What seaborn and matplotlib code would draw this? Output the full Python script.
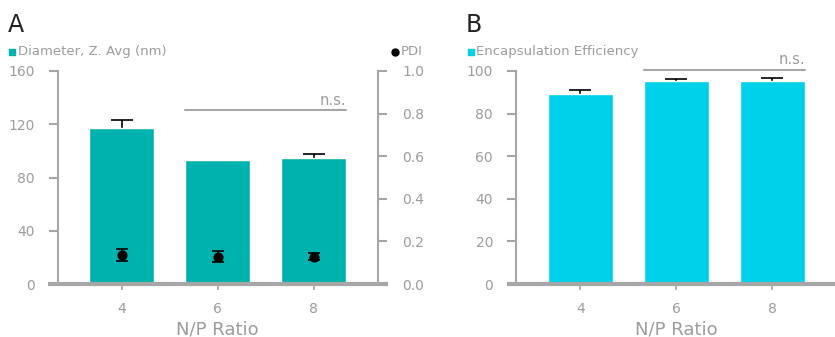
import numpy as np
import pandas as pd
import matplotlib
matplotlib.use("Agg")
import matplotlib.pyplot as plt
from matplotlib.lines import Line2D
import seaborn as sns

# ---- data ----
np_ratio = ["4", "6", "8"]
diameter_nm = [117.2, 93.2, 94.7]
diameter_sd = [6.0, 0.0, 3.2]
pdi = [0.135, 0.128, 0.128]
pdi_sd = [0.028, 0.027, 0.016]
encapsulation = [89.2, 95.3, 95.3]
encapsulation_sd = [1.7, 0.9, 1.6]

left_ticks_a = [0, 40, 80, 120, 160]
right_ticks_a = [0.0, 0.2, 0.4, 0.6, 0.8, 1.0]
ticks_b = [0, 20, 40, 60, 80, 100]

# ---- style ----
TEAL = "#00B2AE"
CYAN = "#00D1EA"
GREY = "#A6A6A6"
TXT = "#9C9C9C"

sns.set_theme(style="white")
plt.rcParams["font.family"] = ["DejaVu Sans"]

W, H = 835, 337
fig = plt.figure(figsize=(W / 100, H / 100), dpi=100)


def frac_box(x0, x1, ytop, ybot):
    return [x0 / W, 1 - ybot / H, (x1 - x0) / W, (ybot - ytop) / H]


def style_axis(ax, ymax, ticks, fmt):
    ax.set_xlim(-0.67, 2.67)
    ax.set_ylim(0, ymax)
    ax.set_yticks(ticks)
    ax.set_yticklabels([fmt(t) for t in ticks])
    for s in ["top", "right", "bottom"]:
        ax.spines[s].set_visible(False)
    ax.spines["left"].set_color(GREY)
    ax.spines["left"].set_linewidth(1.5)
    ax.tick_params(axis="y", which="both", direction="out", length=6.5, width=1.5,
                   color=GREY, labelcolor=TXT, labelsize=10, pad=10, left=True)
    ax.tick_params(axis="x", direction="out", length=4, width=1.2, color=GREY,
                   labelcolor=TXT, labelsize=10, pad=9, bottom=True)
    ax.set_xlabel("N/P Ratio", color=TXT, fontsize=13, labelpad=3)
    ax.set_ylabel("")
    ax.grid(False)
    # heavy baseline running past both tick stubs
    ext = 9.5 / (ax.get_position().width * W)
    ax.add_line(Line2D([-ext, 1 + ext], [0, 0], transform=ax.transAxes,
                       color=GREY, lw=3, clip_on=False, solid_capstyle="butt",
                       zorder=5))


def upper_errorbars(ax, vals, errs, half_cap=0.115):
    # one-sided (upper) error whiskers with a cap
    for i, (v, e) in enumerate(zip(vals, errs)):
        if e <= 0:
            continue
        ax.vlines(i, v, v + e, color="black", lw=1.2, zorder=1)
        ax.hlines(v + e, i - half_cap, i + half_cap, color="black", lw=1.2, zorder=1)


# ---- panel A ----
axA = fig.add_axes(frac_box(57.5, 378, 71, 284))
dfA = pd.DataFrame({"ratio": np_ratio, "diameter": diameter_nm})
upper_errorbars(axA, diameter_nm, diameter_sd)
sns.barplot(data=dfA, x="ratio", y="diameter", color=TEAL, saturation=1,
            width=0.68, ax=axA, zorder=2)
style_axis(axA, 160, left_ticks_a, lambda t: f"{t:d}")

axA2 = axA.twinx()
axA2.set_ylim(0, 1.0)
axA2.set_yticks(right_ticks_a)
axA2.set_yticklabels([f"{t:.1f}" for t in right_ticks_a])
for s in ["top", "left", "bottom"]:
    axA2.spines[s].set_visible(False)
axA2.spines["right"].set_color(GREY)
axA2.spines["right"].set_linewidth(1.5)
axA2.tick_params(axis="y", direction="out", length=6.5, width=1.5, color=GREY,
                 labelcolor=TXT, labelsize=10, pad=11, right=True)
axA2.grid(False)
axA2.errorbar([0, 1, 2], pdi, yerr=pdi_sd, fmt="o", color="black",
              markersize=6.3, elinewidth=1.2, capsize=4, capthick=1.2)

# significance bracket A
axA.plot([0.66, 2.34], [130.7, 130.7], color=GREY, lw=1.5, clip_on=False)
axA.text(2.34, 132.5, "n.s.", ha="right", va="bottom", color=TXT, fontsize=10.5)

# ---- panel B ----
axB = fig.add_axes(frac_box(516, 836.6, 71, 284))
dfB = pd.DataFrame({"ratio": np_ratio, "ee": encapsulation})
upper_errorbars(axB, encapsulation, encapsulation_sd)
sns.barplot(data=dfB, x="ratio", y="ee", color=CYAN, saturation=1,
            width=0.68, ax=axB, zorder=2)
style_axis(axB, 100, ticks_b, lambda t: f"{t:d}")
axB.plot([0.66, 2.34], [100.5, 100.5], color=GREY, lw=1.5, clip_on=False)
axB.text(2.34, 101.7, "n.s.", ha="right", va="bottom", color=TXT, fontsize=10.5)

# ---- panel letters and legends ----
fig.text(8 / W, 1 - 32 / H, "A", fontsize=17, color="#222222", ha="left", va="baseline")
fig.text(466 / W, 1 - 32 / H, "B", fontsize=17, color="#222222", ha="left", va="baseline")

def legend_item(x, y, color, label, marker):
    fig.add_artist(Line2D([x / W], [1 - y / H], marker=marker, color=color,
                          markersize=5 if marker == "s" else 5, lw=0,
                          transform=fig.transFigure))
    fig.text((x + 6) / W, 1 - y / H, label, fontsize=9.5, color=TXT,
             ha="left", va="center")

legend_item(11.5, 51.5, TEAL, "Diameter, Z. Avg (nm)", "s")
legend_item(394.5, 51.5, "black", "PDI", "o")
legend_item(470.5, 51.5, CYAN, "Encapsulation Efficiency", "s")

fig.savefig("out.png", dpi=100)
